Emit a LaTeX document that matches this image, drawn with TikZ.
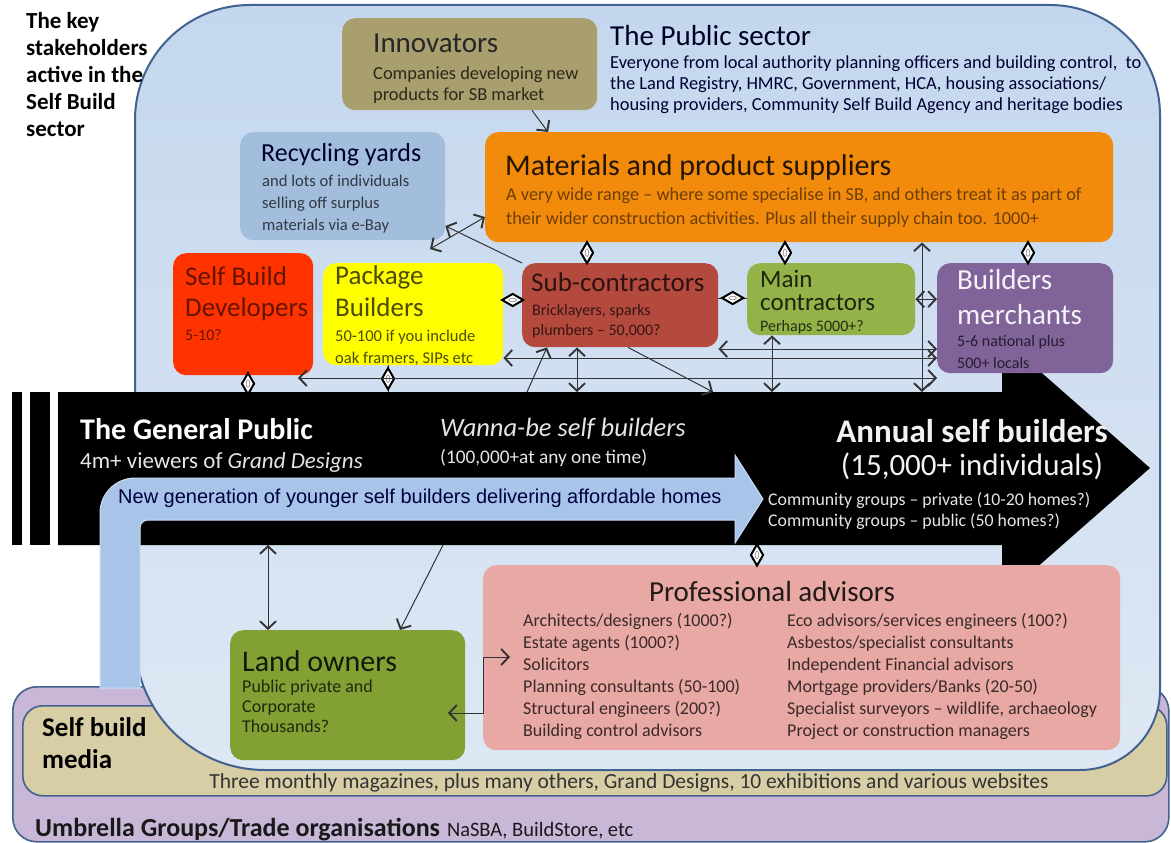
\documentclass[tikz,border=0pt]{standalone}
\usepackage{fontspec}
\setmainfont{Carlito}
\newfontfamily\arialfont{Liberation Sans}
\usetikzlibrary{arrows.meta,shapes.geometric}
\definecolor{frame}{HTML}{41628F}
\definecolor{pubtop}{HTML}{C4D7EE}
\definecolor{pubbot}{HTML}{DEE8F4}
\definecolor{umbr}{HTML}{C9B7D8}
\definecolor{media}{HTML}{D8CEA6}
\definecolor{innov}{HTML}{A99E6D}
\definecolor{recyc}{HTML}{A3BEDC}
\definecolor{mater}{HTML}{F28A0C}
\definecolor{sbdev}{HTML}{FF3300}
\definecolor{packb}{HTML}{FFFF00}
\definecolor{subco}{HTML}{B4493E}
\definecolor{mainco}{HTML}{93B247}
\definecolor{merch}{HTML}{7F6399}
\definecolor{profa}{HTML}{E8A8A3}
\definecolor{lando}{HTML}{83A034}
\definecolor{newgen}{HTML}{A8C5E9}
\newcommand{\setfs}[2]{\fontsize{#1}{#2}\selectfont}

\tikzset{
  box/.style={anchor=north west, inner sep=0pt, rounded corners=13pt},
  txt/.style={anchor=north west, inner sep=0pt, align=left},
  conn/.style={draw=black!80, line width=1pt},
  dmdv/.style={diamond, draw=black, fill=white, line width=2pt, inner sep=0pt,
    minimum width=13pt, minimum height=22pt,
    path picture={\draw[black!45, line width=0.6pt]
      (path picture bounding box.center) ellipse[x radius=1.8, y radius=3.8];}},
  dmdh/.style={diamond, draw=black, fill=white, line width=2pt, inner sep=0pt,
    minimum width=22pt, minimum height=13pt,
    path picture={\draw[black!45, line width=0.6pt]
      (path picture bounding box.center) ellipse[x radius=3.8, y radius=1.8];}},
  >={Straight Barb[length=7.5pt,width=16pt,line width=1.9pt]},
}

\begin{document}
\begin{tikzpicture}[x=1pt,y=1pt]
\useasboundingbox (0,0) rectangle (1171,-843);

% outer bands
\node[box, rounded corners=24pt, fill=umbr, draw=frame, line width=1.6pt,
  minimum width=1156pt, minimum height=155pt] (umbr) at (12,-686) {};
\node[box, rounded corners=20pt, fill=media, draw=frame, line width=1.6pt,
  minimum width=1144pt, minimum height=90pt] (media) at (22,-705) {};

% public sector
\path[top color=pubtop, bottom color=pubbot, draw=frame, line width=2pt]
  (250,-5) -- (1050,-5) arc[start angle=90, end angle=0, radius=110]
  -- (1160,-690) arc[start angle=0, end angle=-90, radius=80]
  -- (265,-770) arc[start angle=-90, end angle=-180, radius=130]
  -- (135,-120) arc[start angle=180, end angle=90, radius=115] -- cycle;

% general public arrow
\fill[black] (58,-392) -- (1002,-392) -- (1002,-338) -- (1150,-468)
  -- (1002,-598) -- (1002,-545) -- (58,-545) -- cycle;
\fill[black] (12,-392) rectangle (22,-545);
\fill[black] (30,-392) rectangle (50,-545);
\coordinate (gpN) at (0,-392);
\coordinate (gpS) at (0,-545);

% new generation arrow
\path[fill=newgen, draw=newgen!60!white, line width=1pt]
  (100,-688) -- (100,-513) arc[start angle=180, end angle=90, radius=35]
  -- (735,-478) -- (735,-455) -- (763,-499) -- (735,-543) -- (735,-520)
  -- (148,-520) arc[start angle=90, end angle=180, radius=8] -- (140,-688) -- cycle;

% boxes
\node[box, fill=innov, minimum width=255pt, minimum height=92pt] (innov) at (342,-18) {};
\node[box, fill=recyc, minimum width=205pt, minimum height=108pt] (recyc) at (240,-132) {};
\node[box, fill=mater, minimum width=628pt, minimum height=110pt] (mater) at (485,-132) {};
\node[box, fill=sbdev, minimum width=140pt, minimum height=122pt] (sbdev) at (173,-253) {};
\node[box, fill=packb, minimum width=180pt, minimum height=102pt] (packb) at (323,-263) {};
\node[box, fill=subco, minimum width=196pt, minimum height=84pt] (subco) at (522,-263) {};
\node[box, fill=mainco, minimum width=168pt, minimum height=72pt] (mainco) at (747,-263) {};
\node[box, fill=merch, minimum width=176pt, minimum height=110pt] (merch) at (937,-263) {};
\node[box, fill=profa, minimum width=637pt, minimum height=185pt] (profa) at (483,-565) {};
\node[box, fill=lando, minimum width=235pt, minimum height=130pt] (lando) at (230,-630) {};

% texts
\node[txt, font=\bfseries\setfs{23}{27}] (title) at (26,-12)
  {The key\\stakeholders\\active in the\\Self Build\\sector};
\node[txt, text=black!85!blue, font=\setfs{29}{33}] (pub-h) at (610,-25) {The Public sector};
\node[txt, text=black!80!blue, font=\setfs{18.4}{21}] (pub-b) at (610,-56)
  {Everyone from local authority planning officers and building control,~ to\\
   the Land Registry, HMRC, Government, HCA, housing associations/\\
   housing providers, Community Self Build Agency and heritage bodies};
\node[txt, text=black!85, font=\setfs{29}{33}] (innov-h) at (373,-34) {Innovators};
\node[txt, text=black!75!innov, font=\setfs{18.4}{21}] (innov-b) at (373,-67)
  {Companies developing new\\products for SB market};
\node[txt, text=black!80!blue, font=\setfs{26}{30}] (recyc-h) at (261,-143) {Recycling yards};
\node[txt, text=black!70!recyc, font=\setfs{16.6}{22}] (recyc-b) at (262,-175)
  {and lots of individuals\\selling off surplus\\materials via e-Bay};
\node[txt, text=black!85!mater, font=\setfs{30}{34}] (mater-h) at (505,-154)
  {Materials and product suppliers};
\node[txt, text=black!55!mater, font=\setfs{18.3}{24}] (mater-b) at (506,-188)
  {A very wide range -- where some specialise in SB, and others treat it as part of\\
   their wider construction activities. Plus all their supply chain too. 1000+};
\node[txt, text=black!60!sbdev, font=\setfs{27}{31}] (sbdev-h) at (185,-267)
  {Self Build\\Developers};
\node[txt, text=black!60!sbdev, font=\setfs{16}{20}] (sbdev-b) at (185,-329) {5-10?};
\node[txt, text=black!70!packb, font=\setfs{27}{32}] (packb-h) at (335,-266)
  {Package\\Builders};
\node[txt, text=black!70!packb, font=\setfs{16.5}{22}] (packb-b) at (335,-330)
  {50-100 if you include\\oak framers, SIPs etc};
\node[txt, text=black!75!subco, font=\setfs{27}{31}] (subco-h) at (531,-273) {Sub-contractors};
\node[txt, text=black!70!subco, font=\setfs{16}{20.5}] (subco-b) at (532,-304)
  {Bricklayers, sparks\\plumbers -- 50,000?};
\node[txt, text=black!80!mainco, font=\setfs{25}{23.5}] (mainco-h) at (760,-270)
  {Main\\contractors};
\node[txt, text=black!75!mainco, font=\setfs{16}{20}] (mainco-b) at (760,-320) {Perhaps 5000+?};
\node[txt, text=white!92!merch, font=\setfs{29}{35}] (merch-h) at (957,-269)
  {Builders\\merchants};
\node[txt, text=black!70!merch, font=\setfs{16}{22}] (merch-b) at (957,-335)
  {5-6 national plus\\500+ locals};
\node[txt, text=white, font=\bfseries\setfs{30}{34}] (gp-h) at (80,-418) {The General Public};
\node[txt, text=white!90!black, font=\setfs{23}{26}] (gp-b) at (80,-452)
  {4m+ viewers of \textit{Grand Designs}};
\node[txt, text=white!90!black, font=\itshape\setfs{26.5}{30}] (wb-h) at (440,-418)
  {Wanna-be self builders};
\node[txt, text=white!90!black, font=\setfs{19.3}{23}] (wb-b) at (440,-449)
  {(100,000+at any one time)};
\node[anchor=north, inner sep=0pt, align=center, text=white!95!black] (ann-h) at (972,-419)
  {{\bfseries\setfs{33}{35}Annual self builders}\\[9pt]{\setfs{31}{35}(15,000+ individuals)}};
\node[txt, text=white!90!black, font=\setfs{17.8}{21}] (comm) at (768,-492)
  {Community groups -- private (10-20 homes?)\\Community groups -- public (50 homes?)};
\node[anchor=west, inner sep=0pt, text=black!75!blue, font=\arialfont\setfs{20}{24}] (newgen-t)
  at (118,-498) {New generation of younger self builders delivering affordable homes};
\node[anchor=north, inner sep=0pt, text=black!85!profa, font=\setfs{29}{33}] (prof-h) at (772,-581)
  {Professional advisors};
\node[txt, text=black!75!profa, font=\setfs{18}{22}] (prof-l) at (523,-613)
  {Architects/designers (1000?)\\Estate agents (1000?)\\Solicitors\\
   Planning consultants (50-100)\\Structural engineers (200?)\\Building control advisors};
\node[txt, text=black!75!profa, font=\setfs{18}{22}] (prof-r) at (787,-613)
  {Eco advisors/services engineers (100?)\\Asbestos/specialist consultants\\
   Independent Financial advisors\\Mortgage providers/Banks (20-50)\\
   Specialist surveyors -- wildlife, archaeology\\Project or construction managers};
\node[txt, text=black!85!lando, font=\setfs{30}{34}] (lando-h) at (242,-650) {Land owners};
\node[txt, text=black!75!lando, font=\setfs{18}{20}] (lando-b) at (242,-680)
  {Public private and\\Corporate\\Thousands?};
\node[txt, font=\bfseries\setfs{27}{32}] (media-h) at (42,-717) {Self build\\media};
\node[anchor=base, inner sep=0pt, text=black!80, font=\setfs{21.5}{24}] (media-b) at (629,-788)
  {Three monthly magazines, plus many others, Grand Designs, 10 exhibitions and various websites};
\node[anchor=base west, inner sep=0pt, text=black!90] (umbr-t) at (35,-836)
  {{\bfseries\setfs{26}{30}Umbrella Groups/Trade organisations}\hspace{7pt}{\setfs{20.5}{24}NaSBA, BuildStore, etc}};

% free ends
\coordinate (rcA) at (430,-249);
\coordinate (sbdR) at (298,-378);
\coordinate (loIn) at (448,-713);

% connectors
\draw[conn,->] (532,0 |- innov.south) -- (548,0 |- mater.north);
\draw[conn,<->] (rcA) -- (mater.west |- 0,-217);
\draw[conn,->] (subco.north west) -- (recyc.east |- 0,-226);
\draw[conn] (587,0 |- mater.south) -- node[dmdv]{} (587,0 |- subco.north);
\draw[conn] (785,0 |- mater.south) -- node[dmdv]{} (785,0 |- mainco.north);
\draw[conn] (1028,0 |- mater.south) -- node[dmdv]{} (1028,0 |- merch.north);
\draw[conn] (packb.east |- 0,-300) -- node[dmdh]{} (subco.west |- 0,-300);
\draw[conn] (subco.east |- 0,-298) -- node[dmdh]{} (mainco.west |- 0,-298);
\draw[conn] (248,0 |- sbdev.south) -- node[dmdv]{} (248,0 |- gpN);
\draw[conn] (388,0 |- packb.south) -- node[dmdv]{} (388,0 |- gpN);
\draw[conn] (757,0 |- gpS) -- node[dmdv]{} (757,0 |- profa.north);
\draw[conn,<->] (mainco.east) -- (merch.west |- mainco.east);
\draw[conn,<->] (922,0 |- mater.south) -- (922,0 |- gpN);
\draw[conn,<->] (subco.east |- 0,-349) -- (merch.west |- 0,-349);
\draw[conn,<->] (packb.east |- 0,-358) -- (merch.west |- 0,-358);
\draw[conn,<->] (sbdR) -- (merch.west |- sbdR);
\draw[conn,<->] (577,0 |- subco.south) -- (577,0 |- gpN);
\draw[conn,<->] (772,0 |- mainco.south) -- (772,0 |- gpN);
\draw[conn,->] (527,0 |- gpN) -- (547,0 |- subco.south);
\draw[conn,->] (628,0 |- subco.south) -- (713,0 |- gpN);
\draw[conn,<->] (268,0 |- gpS) -- (268,0 |- lando.north);
\draw[conn,->] (443,0 |- gpS) -- (400,0 |- lando.north);
\draw[conn,<->] (loIn) -| (profa.west |- 0,-657) -- ++(27,0);
\end{tikzpicture}
\end{document}
